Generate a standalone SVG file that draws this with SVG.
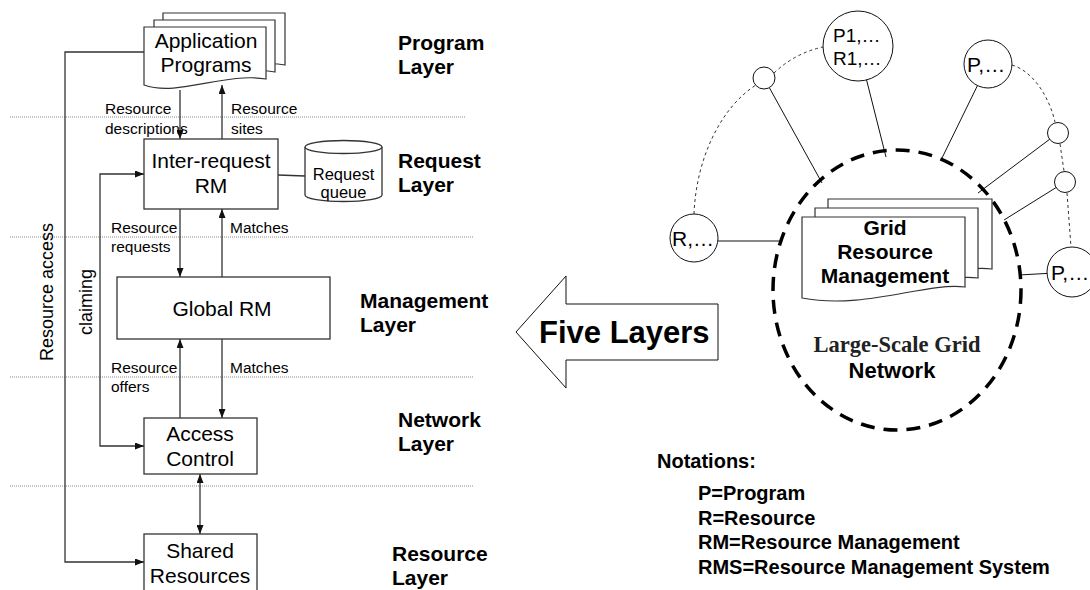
<svg xmlns="http://www.w3.org/2000/svg" width="1090" height="590" viewBox="0 0 1090 590">
  <style>
    text { font-family: "Liberation Sans", Arial, sans-serif; fill: #000; }
    text.serif { font-family: "Liberation Serif", "Times New Roman", serif; fill: #222; }
    .box { fill: #fff; stroke: #333; stroke-width: 1.3; }
    .doc { fill: #fff; stroke: #333; stroke-width: 1.2; }
    .flow { fill: none; stroke: #333; stroke-width: 1.3; }
    .sep { fill: none; stroke: #8a8a8a; stroke-width: 1; stroke-dasharray: 1 1; }
    .link { fill: none; stroke: #111; stroke-width: 1; }
    .ring { fill: none; stroke: #333; stroke-width: 1; stroke-dasharray: 3 3; }
    .site { fill: #fff; stroke: #111; stroke-width: 1; }
    .lbl { font-size: 15.5px; }
    .node { font-size: 21px; text-anchor: middle; }
    .layer { font-size: 21px; font-weight: bold; }
    .note { font-size: 20px; font-weight: bold; }
    .tag { font-size: 21px; }
  </style>
  <defs>
    <marker id="arr" markerUnits="userSpaceOnUse" markerWidth="9" markerHeight="7" refX="9" refY="3.5" orient="auto-start-reverse">
      <path d="M0,0 L9,3.5 L0,7 Z" fill="#111"/>
    </marker>
  </defs>

  <!-- layer separators -->
  <g id="separators">
    <line class="sep" x1="10" y1="117" x2="466" y2="117"/>
    <line class="sep" x1="10" y1="237" x2="473" y2="237"/>
    <line class="sep" x1="10" y1="377" x2="473" y2="377"/>
    <line class="sep" x1="10" y1="486" x2="473" y2="486"/>
  </g>

  <!-- layer titles -->
  <g id="layer-titles">
    <text class="layer" x="398" y="50">Program</text>
    <text class="layer" x="398" y="74">Layer</text>
    <text class="layer" x="398" y="168">Request</text>
    <text class="layer" x="398" y="192">Layer</text>
    <text class="layer" x="360" y="308">Management</text>
    <text class="layer" x="360" y="332">Layer</text>
    <text class="layer" x="398" y="427">Network</text>
    <text class="layer" x="398" y="451">Layer</text>
    <text class="layer" x="392" y="561">Resource</text>
    <text class="layer" x="392" y="585">Layer</text>
  </g>

  <!-- connectors of the layered model -->
  <g id="connectors">
    <path class="flow" d="M144,52 H65 V562 H144" marker-end="url(#arr)"/>
    <path class="flow" d="M144,174 H100 V446 H144" marker-start="url(#arr)" marker-end="url(#arr)"/>
    <line class="flow" x1="180" y1="90" x2="180" y2="139" marker-end="url(#arr)"/>
    <line class="flow" x1="222" y1="139" x2="222" y2="85" marker-end="url(#arr)"/>
    <line class="flow" x1="180" y1="209" x2="180" y2="277" marker-end="url(#arr)"/>
    <line class="flow" x1="222" y1="277" x2="222" y2="209" marker-end="url(#arr)"/>
    <line class="flow" x1="180" y1="418" x2="180" y2="339" marker-end="url(#arr)"/>
    <line class="flow" x1="222" y1="339" x2="222" y2="418" marker-end="url(#arr)"/>
    <line class="flow" x1="200" y1="474" x2="200" y2="534" marker-start="url(#arr)" marker-end="url(#arr)"/>
    <line class="flow" x1="278" y1="175" x2="305" y2="176"/>

    <text class="lbl" x="105" y="114">Resource</text>
    <text class="lbl" x="105" y="134">descriptions</text>
    <text class="lbl" x="231" y="114">Resource</text>
    <text class="lbl" x="231" y="134">sites</text>
    <text class="lbl" x="111" y="233">Resource</text>
    <text class="lbl" x="111" y="252">requests</text>
    <text class="lbl" x="230" y="233">Matches</text>
    <text class="lbl" x="111" y="373">Resource</text>
    <text class="lbl" x="111" y="392">offers</text>
    <text class="lbl" x="230" y="373">Matches</text>
    <text font-size="18" text-anchor="middle" transform="translate(53,292) rotate(-90)">Resource access</text>
    <text font-size="18" text-anchor="middle" transform="translate(92,302) rotate(-90)">claiming</text>
  </g>

  <!-- application programs (stacked documents) -->
  <g id="application-programs">
    <path class="doc" d="M163,13 H285 V65 C246,58 210,83 163,71 Z"/>
    <path class="doc" d="M154,20 H275 V72 C237,65 200,90 154,78 Z"/>
    <path class="doc" d="M144,27 H266 V79 C225,72 178,97 144,85 Z"/>
    <text class="node" x="206" y="48">Application</text>
    <text class="node" x="206" y="72">Programs</text>
  </g>

  <g id="inter-request-rm">
    <rect class="box" x="144" y="139" width="134" height="70"/>
    <text class="node" x="211" y="168">Inter-request</text>
    <text class="node" x="211" y="193">RM</text>
  </g>

  <g id="request-queue">
    <path class="box" d="M305,147 V195 A38.5,6.5 0 0 0 382,195 V147"/>
    <ellipse class="box" cx="343.5" cy="147" rx="38.5" ry="6.5"/>
    <text font-size="16.5" text-anchor="middle" x="343.5" y="180">Request</text>
    <text font-size="16.5" text-anchor="middle" x="343.5" y="198">queue</text>
  </g>

  <g id="global-rm">
    <rect class="box" x="117" y="277" width="213" height="62"/>
    <text class="node" x="222" y="316" font-size="23">Global RM</text>
  </g>

  <g id="access-control">
    <rect class="box" x="144" y="418" width="113" height="56"/>
    <text class="node" x="200" y="441">Access</text>
    <text class="node" x="200" y="466">Control</text>
  </g>

  <g id="shared-resources">
    <rect class="box" x="144" y="534" width="113" height="60"/>
    <text class="node" x="200" y="558">Shared</text>
    <text class="node" x="200" y="583">Resources</text>
  </g>

  <!-- block arrow -->
  <g id="five-layers">
    <polygon points="516,332 566,276 566,304 718,304 718,360 566,360 566,388" fill="#fff" stroke="#111" stroke-width="1"/>
    <text x="539" y="343" font-size="31" font-weight="bold">Five Layers</text>
  </g>

  <!-- grid network: links and ring -->
  <g id="grid-links">
    <path class="ring" d="M694,214 C696,160 720,108 756,85"/>
    <path class="ring" d="M774,73 Q795,53 823,47"/>
    <path class="ring" d="M1012,65 C1035,72 1050,100 1055,122"/>
    <path class="ring" d="M1060,144 L1064,171"/>
    <path class="ring" d="M1067,193 L1071,247"/>
    <line class="link" x1="718" y1="241" x2="780" y2="241"/>
    <line class="link" x1="764" y1="78" x2="822" y2="183"/>
    <line class="link" x1="858" y1="46" x2="886" y2="157"/>
    <line class="link" x1="988" y1="64" x2="942" y2="158"/>
    <line class="link" x1="1058" y1="133" x2="978" y2="193"/>
    <line class="link" x1="1065" y1="182" x2="1004" y2="220"/>
    <line class="link" x1="1072" y1="272" x2="1019" y2="275"/>
  </g>

  <g id="grid-network">
    <ellipse cx="897" cy="290" rx="124" ry="140" fill="none" stroke="#000" stroke-width="3.5" stroke-dasharray="14 9"/>
    <text class="serif" x="897" y="352" font-size="22.5" font-weight="bold" text-anchor="middle">Large-Scale Grid</text>
    <text x="892" y="378" font-size="22" font-weight="bold" text-anchor="middle">Network</text>
  </g>

  <g id="grid-resource-management">
    <path class="doc" d="M828,199 H992 V269 C952,264 892,292 828,280 Z"/>
    <path class="doc" d="M815,208 H978 V278 C938,273 878,301 815,289 Z"/>
    <path class="doc" d="M802,217 H965 V287 C925,282 865,310 802,298 Z"/>
    <text x="885" y="235" font-size="21" font-weight="bold" text-anchor="middle">Grid</text>
    <text x="885" y="259" font-size="21" font-weight="bold" text-anchor="middle">Resource</text>
    <text x="885" y="283" font-size="21" font-weight="bold" text-anchor="middle">Management</text>
  </g>

  <g id="site-p1-r1">
    <circle class="site" cx="858" cy="46" r="35"/>
    <text x="833" y="42" font-size="19">P1,…</text>
    <text x="833" y="65" font-size="19">R1,…</text>
  </g>
  <g id="site-p-top">
    <circle class="site" cx="988" cy="64" r="24"/>
    <text class="tag" x="967" y="72">P,…</text>
  </g>
  <g id="site-r">
    <circle class="site" cx="694" cy="238" r="24"/>
    <text class="tag" x="672" y="246">R,…</text>
  </g>
  <g id="site-p-bottom">
    <circle class="site" cx="1072" cy="272" r="25"/>
    <text class="tag" x="1051" y="280">P,…</text>
  </g>
  <g id="relay-1"><circle class="site" cx="764" cy="78" r="11"/></g>
  <g id="relay-2"><circle class="site" cx="1058" cy="133" r="10.5"/></g>
  <g id="relay-3"><circle class="site" cx="1065" cy="182" r="10.5"/></g>

  <!-- abbreviations -->
  <g id="notations">
    <text class="note" x="657" y="468">Notations:</text>
    <text class="note" x="698" y="500">P=Program</text>
    <text class="note" x="698" y="525">R=Resource</text>
    <text class="note" x="698" y="549">RM=Resource Management</text>
    <text class="note" x="698" y="574">RMS=Resource Management System</text>
  </g>
</svg>
